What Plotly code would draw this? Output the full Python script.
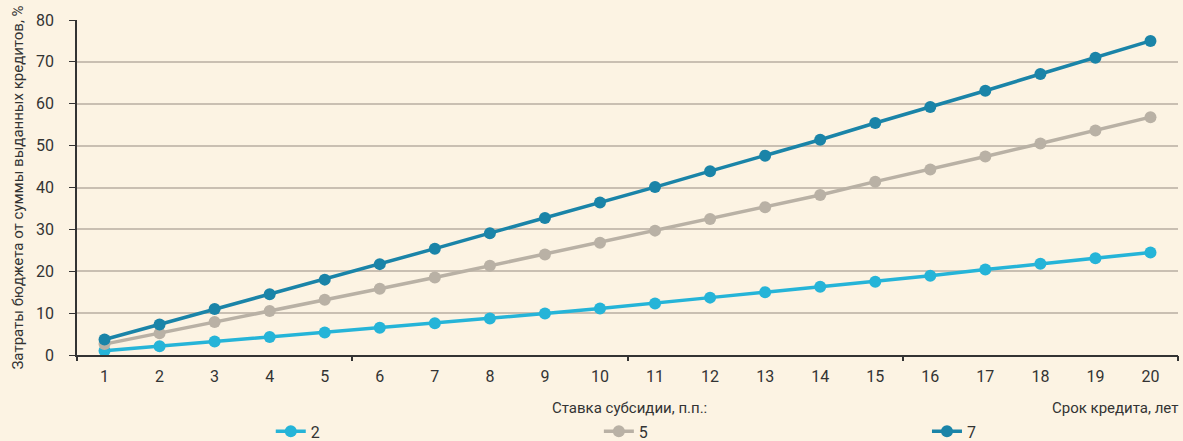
import plotly.graph_objects as go

years = list(range(1, 21))
rate_2 = [1.0, 2.1, 3.2, 4.3, 5.4, 6.5, 7.6, 8.7, 9.9, 11.1,
          12.3, 13.7, 15.0, 16.3, 17.5, 18.9, 20.4, 21.8, 23.1, 24.5]
rate_5 = [2.6, 5.2, 7.9, 10.5, 13.2, 15.8, 18.5, 21.3, 24.0, 26.8,
          29.7, 32.5, 35.3, 38.2, 41.4, 44.3, 47.4, 50.5, 53.6, 56.8]
rate_7 = [3.7, 7.3, 11.0, 14.5, 18.0, 21.7, 25.4, 29.1, 32.7, 36.4,
          40.1, 43.9, 47.6, 51.4, 55.4, 59.2, 63.1, 67.1, 71.0, 75.0]
series_names = ['2', '5', '7']
colors = ['#25B4D8', '#B9B1A5', '#1A84A8']

bg = '#FCF3E3'
txt = '#333333'
font = 'Roboto'

# one legend per series so each sits where the original puts it
legend_ids = ['legend', 'legend2', 'legend3']
legend_x = [0.176, 0.474, 0.772]

fig = go.Figure()
for name, vals, col, lg in zip(series_names, [rate_2, rate_5, rate_7], colors, legend_ids):
    fig.add_trace(go.Scatter(
        x=years, y=vals, name=name, mode='lines+markers',
        line=dict(color=col, width=3.5),
        marker=dict(color=col, size=12),
        legend=lg, showlegend=True,
    ))

# empty trace only to carry the boundary ticks on the second x axis
fig.add_trace(go.Scatter(x=[], y=[], xaxis='x2', showlegend=False))

legend_common = dict(orientation='h', y=-0.279, xanchor='left', yanchor='bottom',
                     bgcolor='rgba(0,0,0,0)', font=dict(size=16, color=txt))

fig.update_layout(
    width=1183, height=441, showlegend=True,
    margin=dict(l=77, r=5, t=20, b=86, autoexpand=False),
    paper_bgcolor=bg, plot_bgcolor=bg,
    font=dict(family=font, color=txt, size=15),
    xaxis=dict(
        range=[0.5, 20.5], tickvals=years, ticktext=[str(y) for y in years],
        ticks='outside', ticklen=6, tickcolor='rgba(0,0,0,0)',
        showgrid=False, zeroline=False, automargin=False,
        showline=True, linecolor='#333333', linewidth=1.5,
        tickfont=dict(size=16, color=txt),
    ),
    xaxis2=dict(
        overlaying='x', range=[0.5, 20.5], side='bottom',
        tickvals=[0.5, 5.5, 10.5, 15.5, 20.5], showticklabels=False,
        ticks='outside', ticklen=5, tickcolor='#333333', tickwidth=1.5,
        showgrid=False, zeroline=False, showline=False,
    ),
    yaxis=dict(
        range=[0, 80], dtick=10, automargin=False,
        ticks='outside', ticklen=6, tickcolor='#333333', ticklabelstandoff=12,
        showgrid=True, gridcolor='#C9BFB2', gridwidth=1.5,
        zeroline=False, showline=True, linecolor='#333333', linewidth=1.5,
        tickfont=dict(size=16, color=txt),
        title=dict(text='Затраты бюджета от суммы выданных кредитов, %',
                   font=dict(size=15, color=txt), standoff=9),
    ),
    legend=dict(x=legend_x[0], **legend_common),
    legend2=dict(x=legend_x[1], **legend_common),
    legend3=dict(x=legend_x[2], **legend_common),
    annotations=[
        dict(text='Ставка субсидии, п.п.:', xref='paper', yref='paper',
             x=0.4296, y=-0.158, xanchor='left', yanchor='middle',
             showarrow=False, font=dict(size=15, color=txt)),
        dict(text='Срок кредита, лет', xref='paper', yref='paper',
             x=1.0018, y=-0.158, xanchor='right', yanchor='middle',
             showarrow=False, font=dict(size=15, color=txt)),
    ],
)

fig.write_html('out.html', config={'displayModeBar': False},
               post_script="document.body.style.margin='0';")
